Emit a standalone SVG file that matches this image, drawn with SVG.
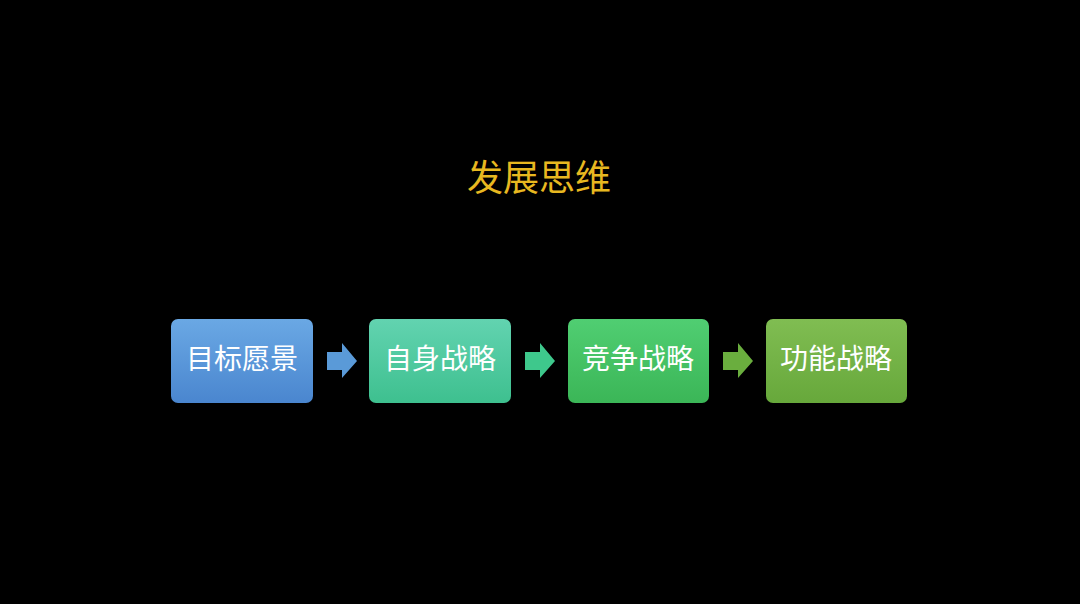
<svg xmlns="http://www.w3.org/2000/svg" width="1080" height="604" viewBox="0 0 1080 604">
<style>
.lbl{font-family:"Liberation Sans","Noto Sans CJK SC",sans-serif;font-size:28px;fill:#ffffff;text-anchor:middle;dominant-baseline:central}
.title{font-family:"Liberation Sans","Noto Sans CJK SC",sans-serif;font-size:36px;fill:#e8b820;text-anchor:middle;dominant-baseline:central}
</style>
<defs>
<linearGradient id="g1" x1="0" y1="0" x2="0" y2="1"><stop offset="0" stop-color="#6aa8e4"/><stop offset="1" stop-color="#4a86cf"/></linearGradient>
<linearGradient id="g2" x1="0" y1="0" x2="0" y2="1"><stop offset="0" stop-color="#62d3b0"/><stop offset="1" stop-color="#3ec08f"/></linearGradient>
<linearGradient id="g3" x1="0" y1="0" x2="0" y2="1"><stop offset="0" stop-color="#50ce72"/><stop offset="1" stop-color="#3bb657"/></linearGradient>
<linearGradient id="g4" x1="0" y1="0" x2="0" y2="1"><stop offset="0" stop-color="#80bd52"/><stop offset="1" stop-color="#67a83b"/></linearGradient>
</defs>
<rect width="1080" height="604" fill="#000"/>
<text class="title" x="539" y="178">发展思维</text>
<g id="connectors">
<path d="M327,352 H342 V343 L357,361 L342,378 V370 H327 Z" fill="#5a9ad8"/>
<path d="M525,352 H540 V343 L555,361 L540,378 V370 H525 Z" fill="#3ec88c"/>
<path d="M723,352 H738 V343 L753,361 L738,378 V370 H723 Z" fill="#6aae3e"/>
</g>
<g id="n1"><rect x="171" y="319" width="142" height="84" rx="7" fill="url(#g1)"/><text class="lbl" x="242" y="359">目标愿景</text></g>
<g id="n2"><rect x="369" y="319" width="142" height="84" rx="7" fill="url(#g2)"/><text class="lbl" x="440" y="359">自身战略</text></g>
<g id="n3"><rect x="568" y="319" width="141" height="84" rx="7" fill="url(#g3)"/><text class="lbl" x="638" y="359">竞争战略</text></g>
<g id="n4"><rect x="766" y="319" width="141" height="84" rx="7" fill="url(#g4)"/><text class="lbl" x="836" y="359">功能战略</text></g>
</svg>
